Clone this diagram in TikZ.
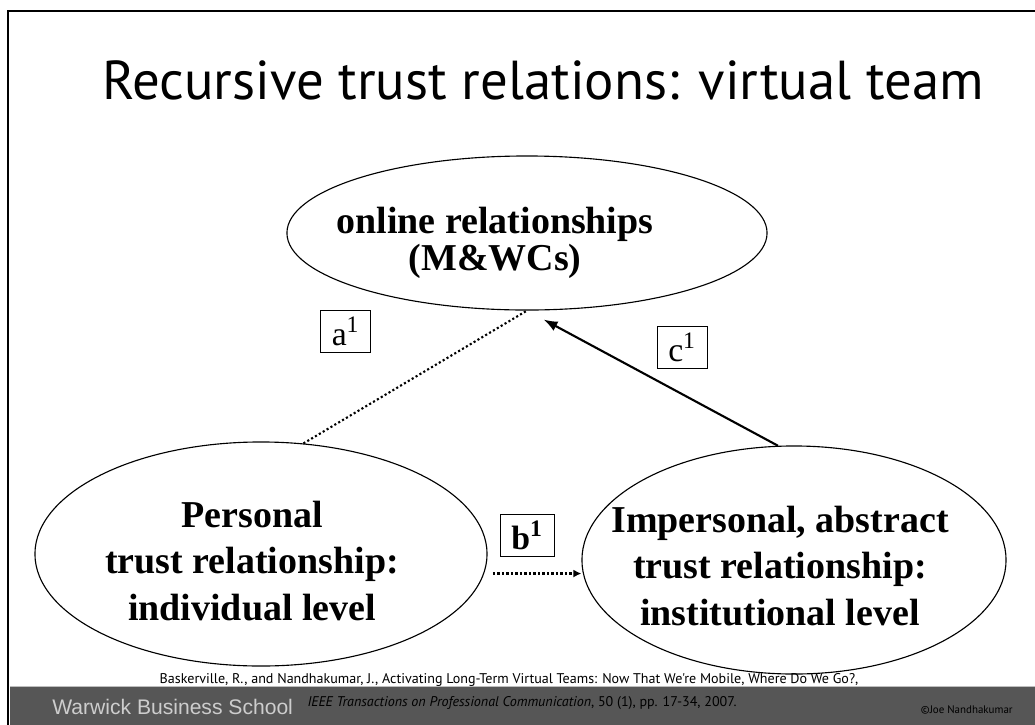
\documentclass[tikz,border=0pt]{standalone}
\usepackage{fontspec}
\setmainfont{Liberation Serif}
\newfontfamily\gillfont{PT Sans}
\newfontfamily\arialfont{Liberation Sans}
\usetikzlibrary{arrows.meta,positioning,shapes.geometric}
\definecolor{wbsgray}{RGB}{86,86,86}
\definecolor{wbsedge}{RGB}{190,190,190}
\definecolor{wbstext}{RGB}{205,205,205}
\tikzset{
  oval/.style={draw, ellipse, line width=0.8pt, inner sep=0pt},
  ovaltext/.style={align=center, font=\fontsize{27}{33}\selectfont\bfseries},
  labelbox/.style={draw, line width=0.7pt, minimum width=1.27cm, minimum height=1.07cm,
                   inner sep=0pt, font=\fontsize{24}{24}\selectfont},
  dotline/.style={line width=1.5pt, dash pattern=on 1.5pt off 1.7pt},
  pusharr/.style={-{Latex[length=3.5mm,width=2.6mm]}, line width=1.5pt},
}

\begin{document}
\begin{tikzpicture}[x=0.025cm, y=-0.025cm]
  \useasboundingbox (0,0) rectangle (1035,725);
  % slide frame and footer bar
  \fill[wbsgray] (10,686) rectangle (1035,725);
  \draw[wbsedge, line width=0.6pt] (10,686.5) -- (1035,686.5);
  \draw[line width=1.6pt] (8,725) -- (8,11) -- (1035,11);

  \node[font=\gillfont\fontsize{39}{39}\selectfont, anchor=base, inner sep=0pt] (title) at (543,99)
    {Recursive trust relations: virtual team};

  % the three levels of trust
  \node[oval, minimum width=12cm, minimum height=3.85cm] (online) at (527,233) {};
  \node[oval, minimum width=11.3cm, minimum height=5.6cm] (personal) at (261,554) {};
  \node[oval, minimum width=10.6cm, minimum height=5.7cm] (impersonal) at (794,560) {};

  \node[ovaltext, font=\fontsize{27}{26.3}\selectfont\bfseries] (onlinetxt) at (495,243)
    {online relationships\\(M\&WCs)};
  \node[ovaltext] (personaltxt) at (252,561) {Personal\\trust relationship:\\individual level};
  \node[ovaltext] (impersonaltxt) at (780,566) {Impersonal, abstract\\trust relationship:\\institutional level};

  \node[labelbox] (a1) at (345.5,331.5) {a\textsuperscript{1}};
  \node[labelbox, minimum width=1.35cm, font=\fontsize{24}{24}\selectfont\bfseries] (b1) at (527,535.5) {b\textsuperscript{1}};
  \node[labelbox, minimum width=1.25cm] (c1) at (682,347.5) {c\textsuperscript{1}};

  % links between the levels
  \draw[dotline] (personal.69) -- (online.south);
  \draw[pusharr, shorten >=0.47cm] (impersonal.98) -- (online.south);
  \draw[dotline, -{Latex[length=2mm,width=2mm]}, shorten <=0.22cm]
    (personal.-5) -- (personal.-5 -| impersonal.west);

  % reference and footer
  \node[font=\gillfont\fontsize{10}{10}\selectfont, anchor=base, inner sep=0pt] (cite1) at (509,683)
    {Baskerville, R., and Nandhakumar, J., Activating Long-Term Virtual Teams: Now That We're Mobile, Where Do We Go?,};
  \node[font=\gillfont\fontsize{10}{10}\selectfont, anchor=base, inner sep=0pt] (cite2) at (522,706)
    {\textit{IEEE Transactions on Professional Communication}, 50 (1), pp. 17-34, 2007.};
  \node[font=\arialfont\fontsize{15}{15}\selectfont, text=wbstext, anchor=base west, inner sep=0pt] (school) at (52,714)
    {Warwick Business School};
  \node[font=\gillfont\fontsize{7.8}{8}\selectfont, anchor=base east, inner sep=0pt] (owner) at (1013,713)
    {\textcopyright Joe Nandhakumar};
\end{tikzpicture}
\end{document}
